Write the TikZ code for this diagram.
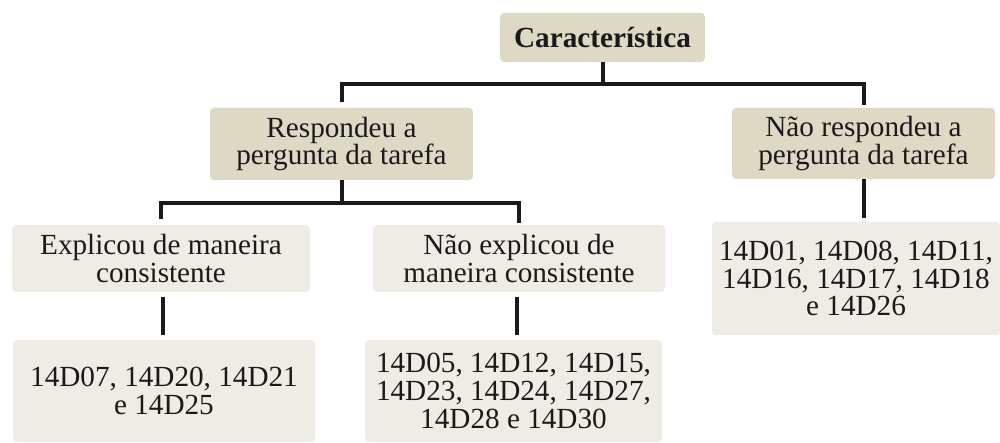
\documentclass[tikz,border=0pt]{standalone}
\usepackage{fontspec}
\setmainfont{Liberation Serif}
\definecolor{tandark}{HTML}{DDD9C5}
\definecolor{tanlight}{HTML}{EEECE4}
\definecolor{ink}{HTML}{1A1A1A}
\begin{document}
\begin{tikzpicture}[x=0.5pt,y=-0.5pt,
  box/.style={rounded corners=2pt, inner sep=0pt, align=center, text=ink,
    font=\fontsize{14.6}{13.8}\selectfont},
  upper/.style={box, fill=tandark},
  lower/.style={box, fill=tanlight},
  conn/.style={draw=ink, line width=2pt}]
\useasboundingbox (0,0) rectangle (1000,443);
\node[upper, minimum width=102.5pt, minimum height=24.5pt] (car) at (602.5,37.5) {\textbf{Característica}};
\node[upper, minimum width=131.5pt, minimum height=36pt] (resp) at (341.5,144) {Respondeu a\\pergunta da tarefa};
\node[upper, minimum width=131.5pt, minimum height=35.5pt] (nresp) at (863.5,143.5) {Não respondeu a\\pergunta da tarefa};
\node[lower, minimum width=149pt, minimum height=33.5pt] (expl) at (161,258.5) {Explicou de maneira\\consistente};
\node[lower, minimum width=146pt, minimum height=33.5pt] (nexpl) at (519,258.5) {Não explicou de\\maneira consistente};
\node[lower, minimum width=151pt, minimum height=51pt] (g1) at (164,391) {14D07, 14D20, 14D21\\e 14D25};
\node[lower, minimum width=148.5pt, minimum height=51pt] (g2) at (513.5,391) {14D05, 14D12, 14D15,\\14D23, 14D24, 14D27,\\14D28 e 14D30};
\node[lower, minimum width=144pt, minimum height=56.5pt] (g3) at (856,278.5) {14D01, 14D08, 14D11,\\14D16, 14D17, 14D18\\e 14D26};
\draw[conn] (car.south) -- ++(0,22) coordinate (j1);
\draw[conn, shorten <=3pt] (resp.north) |- (j1) -| ([yshift=1.5pt]nresp.north);
\draw[conn] (resp.south) -- ++(0,23) coordinate (j2);
\draw[conn, shorten <=2pt] ([yshift=1pt]expl.north) |- (j2) -| ([yshift=1pt]nexpl.north);
\draw[conn, shorten <=2.5pt, shorten >=2.5pt] ([xshift=1pt]expl.south) -- ([xshift=1pt]expl.south |- g1.north);
\draw[conn, shorten <=2.5pt, shorten >=2.5pt] ([xshift=-1pt]nexpl.south) -- ([xshift=-1pt]nexpl.south |- g2.north);
\draw[conn, shorten >=2pt] (nresp.south) -- (nresp.south |- g3.north);
\end{tikzpicture}
\end{document}
